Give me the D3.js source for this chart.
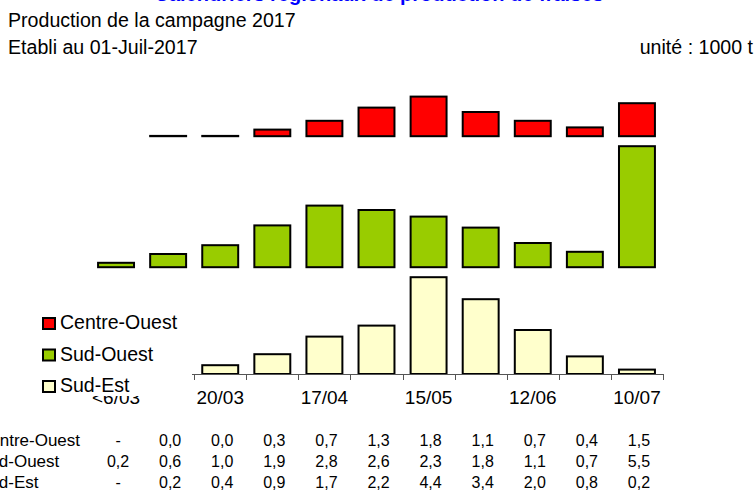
<!DOCTYPE html>
<html>
<head>
<meta charset="utf-8">
<script src="https://cdn.jsdelivr.net/npm/d3@7"></script>
<style>
	body { margin: 0; background: #fff; overflow: hidden; }
	svg { font-family: "Liberation Sans", Arial, sans-serif; }
</style>
</head>
<body>
<svg id="chart" width="755" height="493"></svg>
<script>
// categories (one every two weeks) and the labels shown on the axis
var categories = ["<6/03", "06/03", "20/03", "03/04", "17/04", "01/05", "15/05", "29/05", "12/06", "26/06", "10/07"];
var tickLabels = ["<6/03", "20/03", "17/04", "15/05", "12/06", "10/07"];

// production, 1000 t (null = "-")
var seriesNames = ["Centre-Ouest", "Sud-Ouest", "Sud-Est"];
var centreOuest = [null, 0.0, 0.0, 0.3, 0.7, 1.3, 1.8, 1.1, 0.7, 0.4, 1.5];
var sudOuest = [0.2, 0.6, 1.0, 1.9, 2.8, 2.6, 2.3, 1.8, 1.1, 0.7, 5.5];
var sudEst = [null, 0.2, 0.4, 0.9, 1.7, 2.2, 4.4, 3.4, 2.0, 0.8, 0.2];

var seriesValues = [centreOuest, sudOuest, sudEst];
var seriesColors = ["#ff0000", "#99cc00", "#ffffcc"];

var svg = d3.select("#chart");

// titles
svg.append("text")
	.attr("x", 379).attr("y", 1)
	.attr("text-anchor", "middle")
	.attr("font-size", 20).attr("font-weight", "bold")
	.attr("fill", "#0000ff")
	.text("Calendriers régionaux de production de fraises");

svg.append("text")
	.attr("x", 8).attr("y", 27)
	.attr("font-size", 19.6)
	.text("Production de la campagne 2017");
svg.append("text")
	.attr("x", 8).attr("y", 54)
	.attr("font-size", 19.6)
	.text("Etabli au 01-Juil-2017");
svg.append("text")
	.attr("x", 753).attr("y", 54)
	.attr("text-anchor", "end")
	.attr("font-size", 19.6)
	.text("unité : 1000 t");

// scales
var x = d3.scaleBand().domain(categories).range([90, 663]);
var barW = x.bandwidth() * 0.69;
var y = d3.scaleLinear().domain([0, 1]).range([0, 22]);

// panels are stacked from the bottom, each as tall as its own maximum
var axisY = 374;
var baselines = [];
var base = axisY;
for (var i = seriesValues.length - 1; i >= 0; i--) {
	baselines[i] = base;
	base = base - y(d3.max(seriesValues[i])) - 10;
}

seriesValues.forEach(function(vals, i) {
	var g = svg.append("g");
	var data = categories.map(function(c, j) { return { cat: c, v: vals[j] }; })
		.filter(function(d) { return d.v !== null; });
	// a 0,0 bar still shows as a flat line
	var h = function(d) { return Math.max(y(d.v), 0.3); };
	g.selectAll("rect").data(data).enter().append("rect")
		.attr("x", function(d) { return x(d.cat) + (x.bandwidth() - barW) / 2; })
		.attr("y", function(d) { return baselines[i] - h(d); })
		.attr("width", barW)
		.attr("height", h)
		.attr("fill", seriesColors[i])
		.attr("stroke", "#000")
		.attr("stroke-width", 2);
});

// category axis, tick marks between categories
var axis = d3.axisBottom(x)
	.tickValues(tickLabels)
	.tickSize(0)
	.tickPadding(17);
var axisG = svg.append("g")
	.attr("transform", "translate(0," + axisY + ")")
	.call(axis);
axisG.select(".domain").remove();
axisG.selectAll("text")
	.attr("font-size", 19)
	.attr("font-family", "Liberation Sans, Arial, sans-serif")
	.attr("fill", "#000");

var bounds = categories.map(function(c) { return x(c); }).concat([x.range()[1]]);
svg.append("line")
	.attr("x1", x.range()[0]).attr("x2", x.range()[1])
	.attr("y1", axisY + 0.5).attr("y2", axisY + 0.5)
	.attr("stroke", "#555");
svg.selectAll(".tickmark").data(bounds).enter().append("line")
	.attr("class", "tickmark")
	.attr("x1", function(d) { return Math.round(d) + 0.5; })
	.attr("x2", function(d) { return Math.round(d) + 0.5; })
	.attr("y1", axisY).attr("y2", axisY + 6)
	.attr("stroke", "#555");

// legend (white box lies over the start of the axis)
var legend = svg.append("g");
legend.append("rect")
	.attr("x", 38).attr("y", 305)
	.attr("width", 154).attr("height", 91)
	.attr("fill", "#fff");
seriesNames.forEach(function(name, i) {
	var ly = 329 + i * 31.5;
	legend.append("rect")
		.attr("x", 43).attr("y", ly - 11)
		.attr("width", 12).attr("height", 11)
		.attr("fill", seriesColors[i])
		.attr("stroke", "#000")
		.attr("stroke-width", 2);
	legend.append("text")
		.attr("x", 60).attr("y", ly)
		.attr("font-size", 19.5)
		.text(name);
});

// data table
var fmt = function(v) { return v === null ? "-" : v.toFixed(1).replace(".", ","); };
seriesNames.forEach(function(name, i) {
	var ty = 446 + i * 21;
	svg.append("text")
		.attr("x", -22).attr("y", ty)
		.attr("font-size", 17)
		.text(name);
	svg.selectAll(".cell" + i).data(seriesValues[i]).enter().append("text")
		.attr("class", "cell" + i)
		.attr("x", function(d, j) { return x(categories[j]) + x.bandwidth() / 2 + 2; })
		.attr("y", ty)
		.attr("text-anchor", "middle")
		.attr("font-size", 16)
		.text(fmt);
});
</script>
</body>
</html>
